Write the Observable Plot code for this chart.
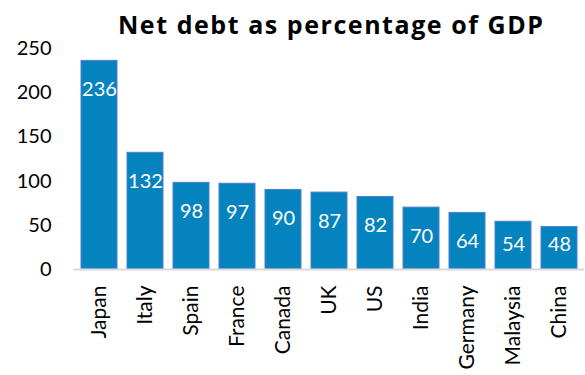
<!DOCTYPE html>
<html>
<head>
<meta charset="utf-8">
<script src="https://cdn.jsdelivr.net/npm/d3@7"></script>
<script src="https://cdn.jsdelivr.net/npm/@observablehq/plot@0.6"></script>
<style>
  html, body { margin: 0; padding: 0; background: #fff; }
  #title { height: 40px; font-family: "Open Sans", Lato, sans-serif; font-weight: bold; font-size: 25px; letter-spacing: 1.55px; color: #000; padding-left: 118px; line-height: 49px; white-space: nowrap; box-sizing: border-box; }
  #chart svg { display: block; overflow: visible; }
</style>
</head>
<body>
<div id="title">Net debt as percentage of GDP</div>
<div id="chart"></div>
<script>
const countries = ["Japan", "Italy", "Spain", "France", "Canada", "UK", "US", "India", "Germany", "Malaysia", "China"];
const values = [236, 132, 98, 97, 90, 87, 82, 70, 64, 54, 48];
const yTicks = [0, 50, 100, 150, 200, 250];

const data = countries.map((c, i) => ({country: c, value: values[i]}));

const plot = Plot.plot({
  width: 585,
  height: 335,
  marginTop: 8,
  marginBottom: 106,
  marginLeft: 73,
  marginRight: 1,
  style: {fontFamily: "Lato, 'Open Sans', sans-serif", fontSize: "20px", color: "#000", background: "#fff"},
  x: {domain: countries, paddingInner: 0.22, paddingOuter: 0.11, label: null},
  y: {domain: [0, 250], label: null},
  marks: [
    Plot.barY(data, {x: "country", y: "value", fill: "#0583BF", stroke: "#4F7FCF", strokeWidth: 1}),
    Plot.ruleY([0], {stroke: "#D9D9D9", strokeWidth: 2}),
    Plot.text(data, {x: "country", y: d => Math.max(d.value - 32.5, 28.5), text: d => String(d.value), fill: "#fff", fontSize: 20}),
    Plot.axisY({ticks: yTicks, tickSize: 0, tickPadding: 22, fontSize: 20, label: null}),
    Plot.axisX({tickSize: 0, tickPadding: 16, tickRotate: -90, fontSize: 21, label: null})
  ]
});
document.getElementById("chart").appendChild(plot);
</script>
</body>
</html>
